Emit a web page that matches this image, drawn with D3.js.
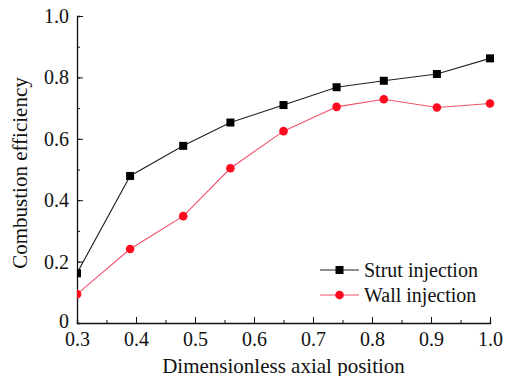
<!DOCTYPE html>
<html>
<head>
<meta charset="utf-8">
<script src="https://cdn.jsdelivr.net/npm/d3@7"></script>
<style>
  html, body { margin: 0; padding: 0; background: #fff; }
  svg { display: block; }
  svg text { font-family: "Times New Roman", "Liberation Serif", Tinos, serif !important; fill: #111; }
</style>
</head>
<body>
<svg id="chart" width="505" height="376"></svg>
<script>
// Axial stations along the combustor
const positions = [0.3, 0.39, 0.48, 0.56, 0.65, 0.74, 0.82, 0.91, 1.0];
// Combustion efficiency per injection scheme
const strutValues = [0.162, 0.479, 0.577, 0.653, 0.710, 0.768, 0.789, 0.811, 0.862];
const wallValues  = [0.094, 0.241, 0.348, 0.504, 0.625, 0.704, 0.729, 0.702, 0.715];
const seriesNames = ["Strut injection", "Wall injection"];
const xTicks = [0.3, 0.4, 0.5, 0.6, 0.7, 0.8, 0.9, 1.0];
const yTicks = [0, 0.2, 0.4, 0.6, 0.8, 1.0];

const FONT = '"Liberation Serif", "Times New Roman", serif';
const svg = d3.select("#chart");
const margin = { left: 77, right: 15, top: 16, bottom: 53 };
const W = 505, H = 376;

const x = d3.scaleLinear().domain([0.3, 1.0]).range([margin.left, W - margin.right]);
const y = d3.scaleLinear().domain([0, 1.0]).range([H - margin.bottom, margin.top]);

const series = [
  { name: seriesNames[0], values: strutValues, color: "#000000", line: "#222222", shape: "square" },
  { name: seriesNames[1], values: wallValues,  color: "#ff0a1e", line: "#f0506a", shape: "circle" }
];

svg.append("defs").append("clipPath").attr("id", "plotClip")
  .append("rect")
  .attr("x", x(0.3)).attr("y", y(1.0) - 5)
  .attr("width", x(1.0) - x(0.3) + 5).attr("height", y(0) - y(1.0) + 5);

// Axes with inward ticks (minor first, then major with labels)
const xAxisG = svg.append("g").attr("transform", `translate(0,${y(0)})`);
xAxisG.call(d3.axisBottom(x).tickValues(d3.range(0.3, 1.0001, 0.05)).tickSize(-3).tickFormat(""));
xAxisG.select(".domain").attr("stroke", "#111").attr("stroke-width", 1.3);
const xMajor = svg.append("g").attr("transform", `translate(0,${y(0)})`)
  .call(d3.axisBottom(x).tickValues(xTicks).tickSize(-6).tickFormat(d3.format(".1f")));
xMajor.select(".domain").remove();
xMajor.attr("font-family", FONT);
xMajor.selectAll("text").attr("font-size", 20).style("font-family", FONT).attr("fill", "#111")
  .attr("y", 9).attr("dy", "0.71em");

const yAxisG = svg.append("g").attr("transform", `translate(${x(0.3)},0)`);
yAxisG.call(d3.axisLeft(y).tickValues(d3.range(0, 1.0001, 0.1)).tickSize(-3).tickFormat(""));
yAxisG.select(".domain").attr("stroke", "#111").attr("stroke-width", 1.3);
const yMajor = svg.append("g").attr("transform", `translate(${x(0.3)},0)`)
  .call(d3.axisLeft(y).tickValues(yTicks).tickSize(-6)
    .tickFormat(d => d === 0 ? "0" : d3.format(".1f")(d)));
yMajor.select(".domain").remove();
yMajor.attr("font-family", FONT);
yMajor.selectAll("text").attr("font-size", 20).style("font-family", FONT).attr("fill", "#111")
  .attr("x", -8).attr("dy", d => d === 0 ? "0.2em" : "0.32em");
svg.selectAll(".tick line").attr("stroke", "#111");

// Axis titles
svg.append("text")
  .attr("x", (x(0.3) + x(1.0)) / 2).attr("y", 373)
  .attr("text-anchor", "middle").attr("font-size", 21).style("font-family", FONT)
  .text("Dimensionless axial position");
svg.append("text")
  .attr("transform", `translate(27,173) rotate(-90)`)
  .attr("text-anchor", "middle").attr("font-size", 21).style("font-family", FONT)
  .text("Combustion efficiency");

// Lines and markers
const plot = svg.append("g").attr("clip-path", "url(#plotClip)");
const lineGen = d3.line().x((d, i) => x(positions[i])).y(d => y(d));

function drawMarker(g, shape, cx, cy, color) {
  if (shape === "square") {
    g.append("rect").attr("x", cx - 4).attr("y", cy - 4).attr("width", 8).attr("height", 8).attr("fill", color);
  } else {
    g.append("circle").attr("cx", cx).attr("cy", cy).attr("r", 4.3).attr("fill", color);
  }
}

series.forEach(s => {
  plot.append("path").datum(s.values)
    .attr("d", lineGen).attr("fill", "none")
    .attr("stroke", s.line).attr("stroke-width", 1.1);
  s.values.forEach((v, i) => drawMarker(plot, s.shape, x(positions[i]), y(v), s.color));
});

// Legend
const legend = svg.append("g");
series.forEach((s, i) => {
  const ly = 270 + i * 25;
  legend.append("line").attr("x1", 320).attr("x2", 359).attr("y1", ly).attr("y2", ly)
    .attr("stroke", s.line).attr("stroke-width", 1.1);
  drawMarker(legend, s.shape, 339.5, ly, s.color);
  legend.append("text").attr("x", 364).attr("y", ly + 6.5).attr("font-size", 20)
    .style("font-family", FONT).text(s.name);
});
</script>
</body>
</html>
